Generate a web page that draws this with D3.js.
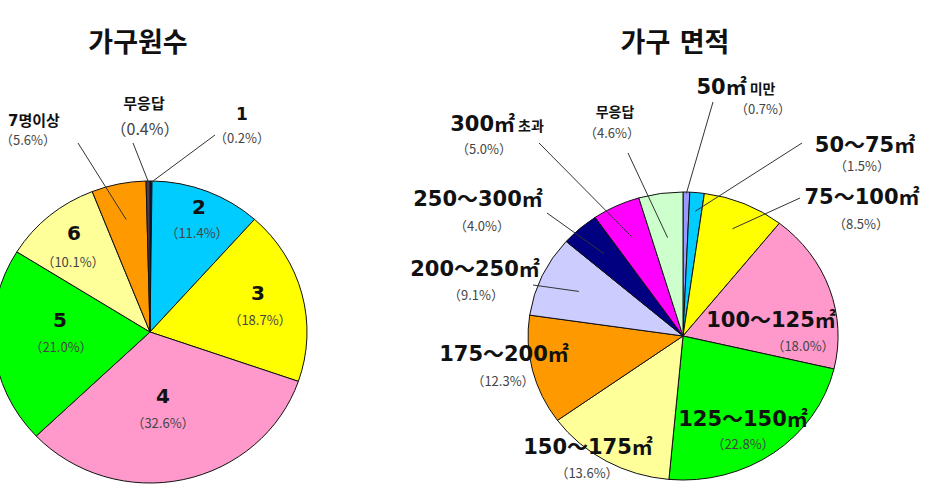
<!DOCTYPE html>
<html lang="ko">
<head>
<meta charset="UTF-8" />
<title>가구원수 / 가구 면적</title>
<script src="https://cdn.jsdelivr.net/npm/d3@7"></script>
<style>
  body { margin: 0; background: #fff; }
  text { font-family: "DejaVu Sans", "Noto Sans CJK KR", sans-serif; }
  .pct { font-family: "Noto Sans CJK KR", sans-serif; fill: #444; font-weight: 400; }
</style>
</head>
<body>
<svg id="svg"></svg>
<script>
  // 가구원수
  const sizeCategories = ["1", "2", "3", "4", "5", "6", "7명이상", "무응답"];
  const sizeShares = [0.2, 11.4, 18.7, 32.6, 21.0, 10.1, 5.6, 0.4];
  const sizeColors = ["#1a1a66", "#00ccff", "#ffff00", "#ff99cc", "#00ff00", "#ffff99", "#ff9900", "#4d3a4d"];

  // 가구 면적
  const areaCategories = ["50㎡ 미만", "50～75㎡", "75～100㎡", "100～125㎡", "125～150㎡", "150～175㎡",
    "175～200㎡", "200～250㎡", "250～300㎡", "300㎡ 초과", "무응답"];
  const areaShares = [0.7, 1.5, 8.5, 18.0, 22.8, 13.6, 12.3, 9.1, 4.0, 5.0, 4.6];
  const areaColors = ["#9999ff", "#00ccff", "#ffff00", "#ff99cc", "#00ff00", "#ffff99",
    "#ff9900", "#ccccff", "#000080", "#ff00ff", "#ccffcc"];

  const width = 933;
  const height = 489;

  const svg = d3.select("#svg").attr("width", width).attr("height", height);

  // label placement: name centre/baseline, pct baseline, optional leader [x, y, radius factor]
  const sizeLayout = [
    { x: 242, y: 120, fs: 17, px: 242, py: 143, pfs: 13, leader: [215, 135, 0.99] },
    { x: 199, y: 214, fs: 20, px: 197, py: 238, pfs: 13 },
    { x: 258, y: 300, fs: 20, px: 260, py: 325, pfs: 13 },
    { x: 163, y: 403, fs: 20, px: 163, py: 428, pfs: 13 },
    { x: 60, y: 327, fs: 20, px: 61, py: 352, pfs: 13 },
    { x: 74, y: 240, fs: 20, px: 73, py: 267, pfs: 13 },
    { x: 34, y: 126, fs: 15, px: 28, py: 145, pfs: 13, leader: [78, 143, 0.76] },
    { x: 144, y: 109, fs: 15, px: 145, py: 135, pfs: 16, leader: [133, 143, 1.0] },
  ];

  const areaLayout = [
    { x: 736, y: 94, fs: 21, px: 763, py: 114, pfs: 13, leader: [713, 102, 0.99] },
    { x: 865, y: 152, fs: 21, px: 862, py: 171, pfs: 13, leader: [802, 143, 0.87] },
    { x: 862, y: 204, fs: 21, px: 861, py: 229, pfs: 13, leader: [800, 198, 0.81] },
    { x: 771, y: 327, fs: 21, px: 803, py: 351, pfs: 13 },
    { x: 743, y: 426, fs: 21, px: 743, py: 449, pfs: 13 },
    { x: 588, y: 454, fs: 21, px: 587, py: 478, pfs: 13 },
    { x: 504, y: 361, fs: 21, px: 503, py: 386, pfs: 13 },
    { x: 475, y: 276, fs: 21, px: 476, py: 300, pfs: 13, leader: [533, 285, 0.74] },
    { x: 478, y: 206, fs: 21, px: 482, py: 231, pfs: 13, leader: [547, 213, 0.765] },
    { x: 497, y: 131, fs: 21, px: 484, py: 154, pfs: 13, leader: [539, 143, 0.76] },
    { x: 615, y: 117, fs: 14, px: 612, py: 138, pfs: 13, leader: [628, 153, 0.69] },
  ];

  function drawPie(opt) {
    const pie = d3.pie().sort(null).value((d) => d);
    const arcs = pie(opt.values);
    const arc = d3.arc().innerRadius(0).outerRadius(1);

    // slightly squashed pies, as in the picture
    const g = svg.append("g")
      .attr("transform", `translate(${opt.cx},${opt.cy}) scale(${opt.rx},${opt.ry})`);

    g.selectAll("path")
      .data(arcs)
      .join("path")
      .attr("d", arc)
      .attr("fill", (d, i) => opt.colors[i])
      .attr("stroke", "#111")
      .attr("stroke-width", 1)
      .attr("vector-effect", "non-scaling-stroke");

    const point = (d, k) => {
      const a = (d.startAngle + d.endAngle) / 2;
      return [opt.cx + opt.rx * k * Math.sin(a), opt.cy - opt.ry * k * Math.cos(a)];
    };

    arcs.forEach((d, i) => {
      const L = opt.layout[i];
      if (L.leader) {
        const p = point(d, L.leader[2]);
        svg.append("line")
          .attr("x1", L.leader[0]).attr("y1", L.leader[1])
          .attr("x2", p[0]).attr("y2", p[1])
          .attr("stroke", "#333")
          .attr("stroke-width", 1);
      }

      const parts = opt.categories[i].split(" ");
      const name = svg.append("text")
        .attr("x", L.x).attr("y", L.y)
        .attr("text-anchor", "middle")
        .attr("font-weight", "bold")
        .attr("fill", "#111");
      name.append("tspan").attr("font-size", L.fs).text(parts[0]);
      if (parts[1]) {
        name.append("tspan").attr("font-size", 14).attr("dx", 3).text(parts[1]);
      }

      svg.append("text")
        .attr("class", "pct")
        .attr("x", L.px).attr("y", L.py)
        .attr("text-anchor", "middle")
        .attr("font-size", L.pfs)
        .text(`（${d.data.toFixed(1)}%）`);
    });

    svg.append("text")
      .text(opt.title)
      .attr("x", opt.tx).attr("y", 52)
      .attr("text-anchor", "middle")
      .attr("font-size", 27)
      .attr("font-weight", "bold")
      .attr("fill", "#111");
  }

  drawPie({
    title: "가구원수", tx: 138,
    cx: 150, cy: 332, rx: 157, ry: 151,
    categories: sizeCategories, values: sizeShares, colors: sizeColors, layout: sizeLayout,
  });

  drawPie({
    title: "가구 면적", tx: 675,
    cx: 683, cy: 336, rx: 155, ry: 144,
    categories: areaCategories, values: areaShares, colors: areaColors, layout: areaLayout,
  });
</script>
</body>
</html>
